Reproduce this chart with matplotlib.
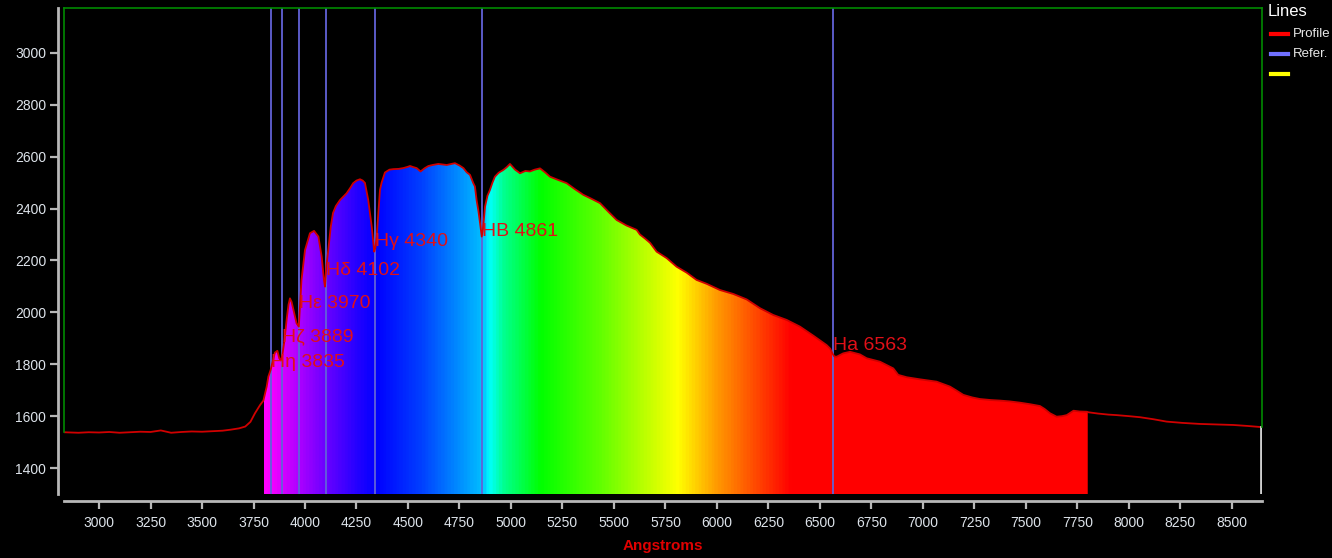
import numpy as np
import matplotlib
matplotlib.use("Agg")
import matplotlib.pyplot as plt
from matplotlib.colors import LinearSegmentedColormap, Normalize
from matplotlib.patches import Polygon
from matplotlib.lines import Line2D

plt.rcParams['font.family'] = ['Liberation Sans', 'DejaVu Sans']

# ---------------- data ----------------
wavelength = [2830, 2900, 2950, 3000, 3050, 3100, 3150, 3200, 3250, 3300, 3350, 3400, 3450, 3500,
              3550, 3600, 3640, 3680, 3710, 3735, 3757, 3770, 3782, 3798, 3814, 3822, 3833, 3843,
              3854, 3866, 3875, 3882, 3890, 3900, 3912, 3920, 3927, 3935, 3948, 3959, 3970, 3983,
              4000, 4024, 4044, 4065, 4081, 4092, 4097, 4104, 4113, 4125, 4136, 4150, 4170, 4185,
              4202, 4220, 4234, 4250, 4267, 4280, 4291, 4307, 4324, 4336, 4342, 4348, 4364, 4372,
              4388, 4410, 4429, 4455, 4477, 4495, 4510, 4525, 4542, 4561, 4580, 4599, 4620, 4647,
              4668, 4688, 4710, 4728, 4750, 4769, 4785, 4801, 4817, 4825, 4833, 4842, 4850, 4858,
              4864, 4874, 4886, 4898, 4910, 4922, 4940, 4963, 4980, 4995, 5020, 5044, 5070, 5092,
              5115, 5141, 5165, 5189, 5230, 5270, 5310, 5351, 5390, 5432, 5470, 5513, 5560, 5610,
              5626, 5650, 5675, 5707, 5756, 5804, 5853, 5901, 5950, 6015, 6079, 6144, 6209, 6273,
              6338, 6403, 6468, 6532, 6550, 6560, 6570, 6581, 6613, 6646, 6694, 6727, 6791, 6856,
              6880, 6921, 6985, 7066, 7131, 7160, 7196, 7240, 7277, 7330, 7374, 7420, 7471, 7520,
              7568, 7590, 7617, 7649, 7675, 7698, 7731, 7760, 7796, 7803, 7850, 7900, 7940, 8000,
              8053, 8120, 8183, 8260, 8345, 8420, 8507, 8580, 8640]
profile = [1538, 1536, 1538, 1537, 1539, 1536, 1538, 1540, 1539, 1545, 1536, 1539, 1541, 1540,
           1542, 1544, 1548, 1553, 1560, 1578, 1611, 1628, 1643, 1660, 1714, 1752, 1778, 1810,
           1845, 1852, 1823, 1815, 1835, 1890, 1980, 2030, 2054, 2040, 1995, 1958, 1945, 2125,
           2240, 2305, 2314, 2292, 2215, 2125, 2099, 2180, 2240, 2330, 2383, 2410, 2433, 2445,
           2459, 2480, 2498, 2508, 2513, 2508, 2499, 2433, 2330, 2234, 2250, 2292, 2472, 2500,
           2539, 2550, 2552, 2553, 2556, 2560, 2564, 2560, 2556, 2543, 2555, 2564, 2568, 2572,
           2570, 2568, 2572, 2575, 2566, 2556, 2540, 2530, 2498, 2485, 2433, 2390, 2343, 2292,
           2320, 2408, 2450, 2472, 2500, 2523, 2538, 2549, 2560, 2572, 2550, 2536, 2545, 2543,
           2550, 2555, 2540, 2523, 2510, 2498, 2475, 2453, 2438, 2421, 2390, 2356, 2335, 2318,
           2300, 2285, 2268, 2234, 2209, 2176, 2153, 2125, 2110, 2086, 2071, 2050, 2016, 1990,
           1971, 1945, 1910, 1874, 1860, 1842, 1830, 1829, 1842, 1848, 1838, 1823, 1810, 1784,
           1759, 1750, 1742, 1733, 1714, 1700, 1682, 1672, 1666, 1662, 1660, 1657, 1652, 1646,
           1639, 1628, 1611, 1598, 1600, 1604, 1621, 1618, 1617, 1615, 1610, 1606, 1604, 1600,
           1596, 1588, 1579, 1574, 1570, 1568, 1566, 1562, 1558]

ref_lines = [3835, 3889, 3970, 4102, 4340, 4861, 6563]
ref_labels = ["Hη 3835", "Hζ 3889", "Hε 3970", "Hδ 4102", "Hγ 4340", "HB 4861", "Ha 6563"]
ref_label_y = [1808, 1904, 2035, 2162, 2273, 2312, 1873]

fill_start, fill_end = 3800, 7800
# colour stops of the spectral fill (wavelength, colour)
stop_wl = [3800, 3840, 3900, 4000, 4100, 4250, 4340, 4560, 4860, 4890, 4960, 5140,
           5430, 5600, 5810, 6000, 6200, 6360, 7800]
stop_col = ["#ff00ff", "#ee00ff", "#cc00ff", "#9900ff", "#6600ff", "#2200ff", "#0000ff",
            "#0040ff", "#00c0ff", "#00ffff", "#00ff90", "#00ff00", "#60ff00", "#a8ff00",
            "#ffff00", "#ff9900", "#ff4400", "#ff0000", "#ff0000"]

legend_labels = ["Profile", "Refer.", ""]

x_ticks = list(range(3000, 8501, 250))
y_ticks = list(range(1400, 3001, 200))
x_min, x_max = 2830, 8646
y_min, y_max = 1300, 3173

# ---------------- figure ----------------
W, H = 1332, 558
fig = plt.figure(figsize=(W / 100, H / 100), dpi=100, facecolor='black')
ax = fig.add_axes([64 / W, (H - 494) / H, (1262 - 64) / W, (494 - 8) / H])
ax.set_facecolor('black')
ax.set_xlim(x_min, x_max)
ax.set_ylim(y_min, y_max)

wl = np.array(wavelength, dtype=float)
pr = np.array(profile, dtype=float)

# spectral gradient fill under the curve
pos = [(w - fill_start) / (fill_end - fill_start) for w in stop_wl]
cmap = LinearSegmentedColormap.from_list('spec', list(zip(pos, stop_col)))
mask = (wl > fill_start) & (wl < fill_end)
y0 = np.interp(fill_start, wl, pr)
y1 = np.interp(fill_end, wl, pr)
verts = [(fill_start, y_min), (fill_start, y0)] + list(zip(wl[mask], pr[mask])) + \
        [(fill_end, y1), (fill_end, y_min)]
poly = Polygon(verts, closed=True, facecolor='none', edgecolor='none')
ax.add_patch(poly)
grad = np.linspace(fill_start, fill_end, 1200).reshape(1, -1)
im = ax.imshow(grad, extent=(fill_start, fill_end, y_min, y_max), aspect='auto',
               cmap=cmap, norm=Normalize(fill_start, fill_end), origin='lower',
               interpolation='bilinear', zorder=1)
im.set_clip_path(poly)

# reference lines
for w in ref_lines:
    ax.axvline(w, color='#6262d8', lw=1.3, zorder=2)

# profile curve
ax.plot(wl, pr, color='#d00000', lw=1.3, zorder=3)

# end marker at right
ax.plot([wl[-1], wl[-1]], [y_min, pr[-1]], color='#cfcfcf', lw=2, zorder=3)

# green frame
ax.plot([x_min, x_min], [pr[0], y_max], color='#008a00', lw=1.2, clip_on=False, zorder=4)
ax.plot([x_max, x_max], [pr[-1], y_max], color='#008a00', lw=1.2, clip_on=False, zorder=4)

# labels
for w, lab, yy in zip(ref_lines, ref_labels, ref_label_y):
    ax.text(w, yy, lab, color='#e01018', fontsize=14, ha='left', va='center', zorder=5)

# spines / ticks
ax.spines['right'].set_visible(False)
ax.spines['top'].set_color('#008a00')
ax.spines['top'].set_linewidth(1.2)
ax.spines['left'].set_position(('outward', 4.3))
ax.spines['bottom'].set_position(('outward', 5))
for s in ['left', 'bottom']:
    ax.spines[s].set_color('#b8b8b8')
    ax.spines[s].set_linewidth(2)

ax.set_xticks(x_ticks)
ax.set_yticks(y_ticks)
ax.tick_params(colors='#b8b8b8', length=5.5, width=1.6, labelcolor='#dde3ea', labelsize=10)
ax.tick_params(axis='x', pad=5)
ax.tick_params(axis='y', pad=3)

ax.set_xlabel('Angstroms', color='#e00000', fontsize=11, fontweight='bold')
ax.xaxis.set_label_coords(0.5, -0.107)
ax.xaxis.label.set_verticalalignment('center')

# legend
fig.text(1268 / W, 1 - 12 / H, 'Lines', color='white', fontsize=12, ha='left', va='center')
leg_colors = ['red', '#7070ff', '#ffff00']
leg_ypix = [34, 54, 74]
for col, txt, yp in zip(leg_colors, legend_labels, leg_ypix):
    fig.add_artist(Line2D([1271 / W, 1288 / W], [1 - yp / H] * 2, color=col, lw=3))
    if txt:
        fig.text(1293 / W, 1 - yp / H, txt, color='#e8e8e8', fontsize=9.5, ha='left', va='center')

fig.savefig('out.png', dpi=100, facecolor='black')
